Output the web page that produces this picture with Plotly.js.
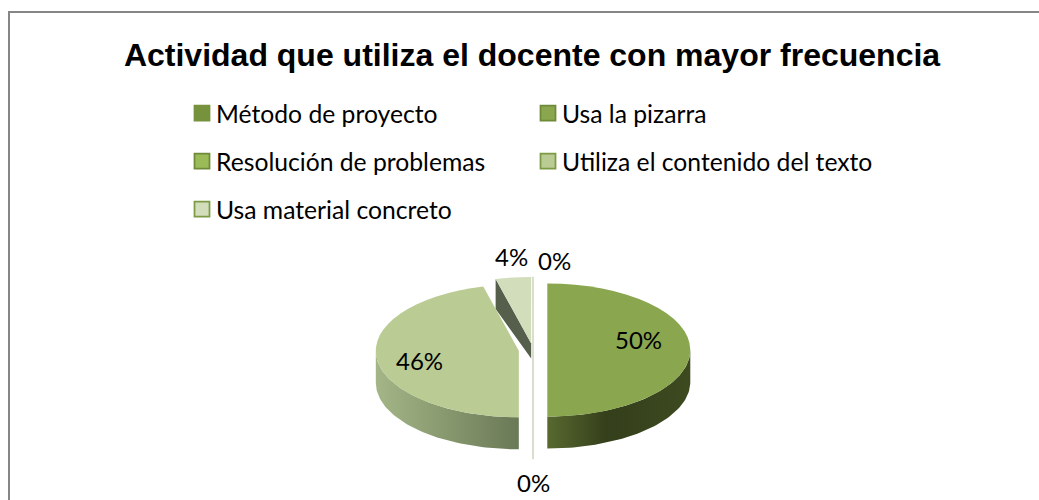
<!DOCTYPE html>
<html>
<head>
<meta charset="utf-8">
<script src="https://cdn.plot.ly/plotly-3.0.1.min.js"></script>
<style>html,body{margin:0;padding:0;background:#fff;overflow:hidden}</style>
</head>
<body>
<div id="chart" style="width:1039px;height:500px"></div>
<script>
const categories = ['Método de proyecto', 'Usa la pizarra', 'Resolución de problemas', 'Utiliza el contenido del texto', 'Usa material concreto'];
const values = [0, 50, 0, 46, 4];
const sliceColors = ['#76923c', '#8aa64f', '#9bbb59', '#bacb93', '#d2ddbc'];
const swatchBorders = ['#76923c', '#6f8a38', '#6f8a38', '#7d9a45', '#7d9a45'];
const titleText = 'Actividad que utiliza el docente con mayor frecuencia';

const W = 1039, H = 500;
const CX = 533, CY = 350, R = 143, K = 0.465, PULL = 0.1, DEPTH = 32, BACK_DEPTH_OUTER = 30, BACK_DEPTH_TIP = 15;
const FONT = 'Lato, Carlito, Calibri, sans-serif';
const labelAnchors = [[554, 260], [638, 339], [533, 482], [419, 360], [511, 256]];

const total = values.reduce((a, b) => a + b, 0);
let running = 0;
const spans = values.map(v => { const a0 = running / total * 360; running += v; return [a0, running / total * 360]; });
const rad = d => d * Math.PI / 180;
function centerOf(i) {
  const m = rad((spans[i][0] + spans[i][1]) / 2), p = PULL * R;
  return [CX + p * Math.sin(m), CY - p * Math.cos(m) * K];
}
function rim(i, a) {
  const c = centerOf(i);
  return [c[0] + R * Math.sin(rad(a)), c[1] - R * Math.cos(rad(a)) * K];
}
function wall(i) {
  const a0 = Math.max(spans[i][0], 90), a1 = Math.min(spans[i][1], 270);
  const top = [];
  for (let n = 0; n <= 60; n++) top.push(rim(i, a0 + (a1 - a0) * n / 60));
  const pts = top.concat(top.slice().reverse().map(p => [p[0], p[1] + DEPTH]));
  return { x: pts.map(p => p[0]), y: pts.map(p => p[1]) };
}
const w50 = wall(1), w46 = wall(3);
const c4 = centerOf(4), e4 = rim(4, spans[4][0]);
const eTop = rim(0, spans[0][0]), eBottom = rim(2, spans[2][0]);

function filled(pts, colorscale) {
  return {
    type: 'scatter', mode: 'lines', x: pts.x, y: pts.y, fill: 'toself',
    line: { width: 0 }, hoverinfo: 'skip', showlegend: false,
    fillcolor: colorscale[0][1],
    fillgradient: { type: 'horizontal', colorscale: colorscale }
  };
}
const traces = [
  {
    type: 'scatter', mode: 'lines', line: { width: 2, color: '#d9dfcb' },
    x: [eTop[0], eBottom[0]], y: [eTop[1], eBottom[1] + DEPTH + 4],
    hoverinfo: 'skip', showlegend: false
  },
  filled(w50, [[0, '#58692f'], [0.42, '#343f1b'], [1, '#3d4a20']]),
  filled(w46, [[0, '#a4b687'], [1, '#6a7956']]),
  {
    type: 'scatter', mode: 'lines', fill: 'toself', fillcolor: '#555f4c', line: { width: 0 },
    x: [e4[0], c4[0], c4[0], e4[0]],
    y: [e4[1], c4[1], c4[1] + BACK_DEPTH_TIP, e4[1] + BACK_DEPTH_OUTER],
    hoverinfo: 'skip', showlegend: false
  },
  {
    type: 'pie', labels: categories, values: values, sort: false, direction: 'clockwise', rotation: 0,
    pull: values.map(() => PULL), textinfo: 'none', hoverinfo: 'label+percent',
    marker: { colors: sliceColors, line: { color: swatchBorders, width: 1.4 } },
    domain: {
      x: [(CX - R * (1 + PULL)) / W, (CX + R * (1 + PULL)) / W],
      y: [0.5 - R * (1 + PULL) / H, 0.5 + R * (1 + PULL) / H]
    }
  }
];

const layout = {
  width: W, height: H, margin: { l: 0, r: 0, t: 0, b: 0 },
  paper_bgcolor: '#fff', plot_bgcolor: 'rgba(0,0,0,0)',
  font: { family: FONT, color: '#000' },
  title: {
    text: '<b>' + titleText + '</b>', x: 532 / W, xanchor: 'center', y: 1 - 55 / H, yanchor: 'middle',
    font: { family: 'Liberation Sans, Arial, sans-serif', size: 32, color: '#000' }
  },
  xaxis: { range: [0, W], visible: false, fixedrange: true },
  yaxis: { range: [H, 0], visible: false, fixedrange: true },
  showlegend: true,
  legend: { x: 0, y: 1, xanchor: 'left', yanchor: 'top', orientation: 'v', font: { family: FONT, size: 24.7, color: '#000' }, bgcolor: 'rgba(0,0,0,0)', itemclick: false, itemdoubleclick: false },
  shapes: [{ type: 'rect', xref: 'paper', yref: 'paper', x0: 9 / W, x1: 1.02, y0: -0.04, y1: 1 - 12 / H, line: { color: '#868686', width: 2 }, fillcolor: 'rgba(0,0,0,0)', layer: 'below' }],
  annotations: values.map((v, i) => ({
    xref: 'x', yref: 'y', x: labelAnchors[i][0], y: labelAnchors[i][1], text: v + '%', showarrow: false,
    xanchor: 'center', yanchor: 'middle', font: { family: FONT, size: 24, color: '#000' }
  }))
};

Plotly.newPlot('chart', traces, layout, { displayModeBar: false, staticPlot: false }).then(() => {
  // flatten the circular pie into the tilted ellipse of the reference
  const pie = document.querySelector('.pielayer');
  pie.setAttribute('transform', 'translate(0,' + CY + ') scale(1,' + K + ') translate(0,' + (-H / 2) + ')');
  pie.querySelectorAll('path.surface').forEach(p => { p.style.strokeWidth = '0'; });
  // lay the legend out in the reference's two columns and three rows
  const legend = document.querySelector('.legend');
  legend.setAttribute('transform', 'translate(0,0)');
  const scroll = legend.querySelector('.scrollbox');
  scroll.removeAttribute('clip-path');
  scroll.setAttribute('transform', 'translate(0,0)');
  const slots = [[182, 113], [528, 113], [182, 161], [528, 161], [182, 209]];
  legend.querySelectorAll('.traces').forEach((g, i) => {
    g.setAttribute('transform', 'translate(' + slots[i][0] + ',' + slots[i][1] + ')');
    g.querySelectorAll('.legendpie path, path.legendpie').forEach(p => {
      p.setAttribute('transform', 'translate(20,0) scale(1.25)');
    });
    g.querySelectorAll('.legendtext').forEach(t => t.setAttribute('x', 34));
  });
});
</script>
</body>
</html>
